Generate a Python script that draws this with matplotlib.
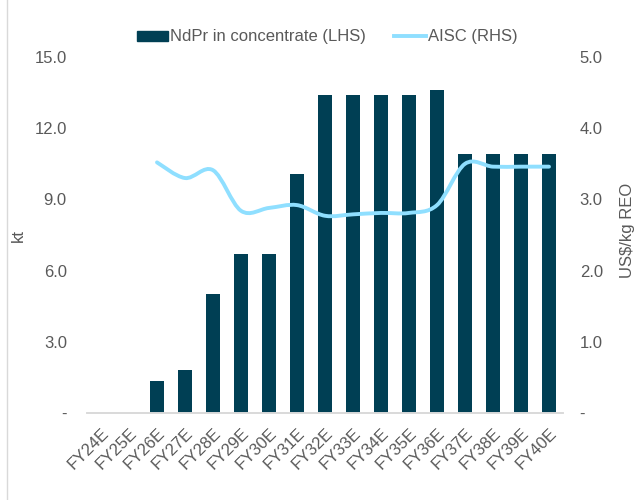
import matplotlib
matplotlib.use("Agg")
import matplotlib.pyplot as plt
from matplotlib.path import Path
from matplotlib.patches import PathPatch, Patch
from matplotlib.lines import Line2D
import numpy as np

plt.rcParams['font.family'] = ['Liberation Sans', 'DejaVu Sans']

categories = ["FY24E", "FY25E", "FY26E", "FY27E", "FY28E", "FY29E", "FY30E", "FY31E",
              "FY32E", "FY33E", "FY34E", "FY35E", "FY36E", "FY37E", "FY38E", "FY39E", "FY40E"]
ndpr_kt = [0, 0, 1.35, 1.8, 5.0, 6.7, 6.7, 10.05, 13.4, 13.4, 13.4, 13.4, 13.6, 10.9, 10.9, 10.9, 10.9]
aisc = [None, None, 3.52, 3.30, 3.41, 2.84, 2.88, 2.92, 2.77, 2.79, 2.81, 2.81, 2.92, 3.50, 3.46, 3.46, 3.46]
left_ticks = [0, 3, 6, 9, 12, 15]
right_ticks = [0, 1, 2, 3, 4, 5]

BAR = "#003F54"
LINE = "#8FDFFF"
TXT = "#595959"
FS = 12

fig = plt.figure(figsize=(6.37, 5.0), dpi=100)
ax = fig.add_axes([87/637, 87/500, (563-87)/637, (413-57)/500])
ax2 = ax.twinx()

x = np.arange(len(categories))
ax.bar(x, ndpr_kt, width=0.5, color=BAR, zorder=2)
ax.set_xlim(-0.5, len(categories) - 0.5)
ax.set_ylim(0, 15)
ax2.set_ylim(0, 5)

# smoothed line (Excel-style Catmull-Rom Bezier)
pts = [(xi, yi) for xi, yi in zip(x, aisc) if yi is not None]
P = np.array(pts, dtype=float)
verts = [tuple(P[0])]
codes = [Path.MOVETO]
n = len(P)
for i in range(n - 1):
    p0 = P[i - 1] if i > 0 else P[i]
    p1 = P[i]
    p2 = P[i + 1]
    p3 = P[i + 2] if i + 2 < n else P[i + 1]
    c1 = p1 + (p2 - p0) / 6.0
    c2 = p2 - (p3 - p1) / 6.0
    verts += [tuple(c1), tuple(c2), tuple(p2)]
    codes += [Path.CURVE4] * 3
ax2.add_patch(PathPatch(Path(verts, codes), facecolor="none", edgecolor=LINE,
                        lw=2.8, capstyle="round", joinstyle="round", zorder=3))

for a in (ax, ax2):
    for s in ["top", "left", "right"]:
        a.spines[s].set_visible(False)
    a.spines["bottom"].set_color("#D9D9D9")
    a.spines["bottom"].set_linewidth(1.2)
    a.tick_params(length=0, colors=TXT, labelsize=FS)

ax.set_yticks(left_ticks)
ax.set_yticklabels(["-" if t == 0 else f"{t:.1f}" for t in left_ticks])
ax.tick_params(axis="y", pad=14.5)
ax2.set_yticks(right_ticks)
ax2.set_yticklabels(["-" if t == 0 else f"{t:.1f}" for t in right_ticks])
ax2.tick_params(axis="y", pad=12)

ax.set_xticks(x)
ax.set_xticklabels(categories, rotation=45, ha="right", va="top", rotation_mode="anchor")
ax.tick_params(axis="x", pad=9)

ax.set_ylabel("kt", color=TXT, fontsize=FS)
ax.yaxis.set_label_coords((26 - 87) / 476, (413 - 235) / 356)
ax2.set_ylabel("US$/kg REO", color=TXT, fontsize=FS)
ax2.yaxis.set_label_coords((620 - 87) / 476, (413 - 230) / 356)

handles = [Patch(facecolor=BAR, edgecolor=BAR), Line2D([0], [0], color=LINE, lw=2.8)]
fig.legend(handles, ["NdPr in concentrate (LHS)", "AISC (RHS)"], loc="center",
           bbox_to_anchor=(327/637, 1 - 37/500), ncol=2, frameon=False, fontsize=FS,
           labelcolor=TXT, handlelength=1.9, handleheight=0.55, handletextpad=0.1,
           columnspacing=1.7)

fig.add_artist(Line2D([7/637, 7/637], [0, 1], color="#D9D9D9", lw=1))

fig.savefig("out.png", dpi=100)
